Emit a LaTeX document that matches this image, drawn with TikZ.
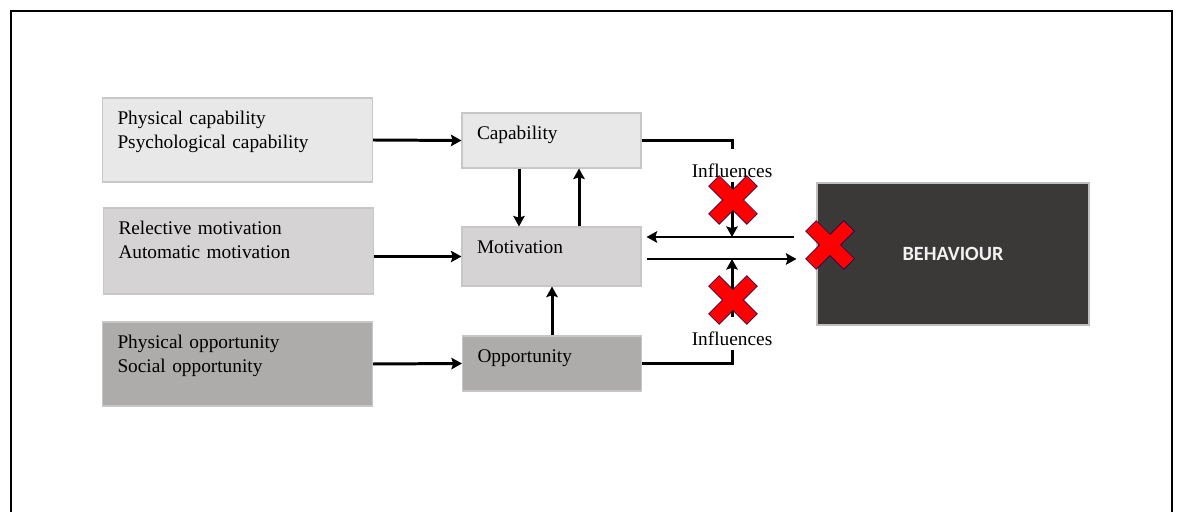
\documentclass[tikz,border=0pt]{standalone}
\usepackage{fontspec}
\setmainfont{Liberation Serif}
\newfontfamily\behfont{Carlito}
\usepackage{tikz}
\usetikzlibrary{positioning,calc,arrows.meta}
\definecolor{capgray}{HTML}{E8E8E8}
\definecolor{motgray}{HTML}{D5D3D4}
\definecolor{oppgray}{HTML}{AEABAB}
\definecolor{behgray}{HTML}{3B3838}

\begin{document}
\begin{tikzpicture}[
  font=\fontsize{11}{13.6}\selectfont,
  box/.style={draw=black!22, line width=0.6pt, inner xsep=3mm, inner ysep=0pt,
              text height=5.4mm, align=left},
  lst/.style={box, text width=4.8cm},
  stg/.style={box, text width=2.98cm},
  infl/.style={inner sep=0pt, anchor=base, text height=5.7mm, text depth=0.7mm},
  ln/.style={line width=1.7pt},
  fl/.style={ln, -{Stealth[length=6pt, width=6.5pt, inset=1pt]}},
  nox/.pic={
    \fill[red, draw=blue!35!black, line width=0.3pt, rotate=45]
      (0.15,0.15) -- (0.54,0.15) -- (0.54,-0.15) -- (0.15,-0.15) --
      (0.15,-0.54) -- (-0.15,-0.54) -- (-0.15,-0.15) -- (-0.54,-0.15) --
      (-0.54,0.15) -- (-0.15,0.15) -- (-0.15,0.54) -- (0.15,0.54) -- cycle;
  },
]
  \useasboundingbox (0,0) rectangle (23.68,10.22);
  % outer frame
  \draw[line width=1.4pt] (0.22,-0.2) |- (23.44,10.0) -- (23.44,-0.2);

  %=================== sources ===================
  \node[lst, fill=capgray, text depth=11.4mm] (capl) at (4.75,7.42) {Physical capability\\Psychological capability};
  \node[lst, fill=motgray, text depth=11.8mm] (motl) at (4.77,5.20) {Relective motivation\\Automatic motivation};
  \node[lst, fill=oppgray, text depth=11.4mm] (oppl) at (4.75,2.94) {Physical opportunity\\Social opportunity};

  %=================== components ===================
  \node[stg, fill=capgray, text depth=5.6mm] (cap) at (11.03,7.41) {Capability};
  \node[stg, fill=motgray, text depth=6.4mm] (mot) at (11.03,5.09) {Motivation};
  \node[stg, fill=oppgray, text depth=5.6mm] (opp) at (11.04,2.95) {Opportunity};

  \draw[fl] (capl.east) -- (cap.west);
  \draw[fl] (mot.west -| motl.east) -- (mot.west);
  \draw[fl] (oppl.east) -- (opp.west);

  \draw[fl] ([xshift=-6.5mm]cap.south) -- ([xshift=-6.5mm]mot.north);
  \draw[fl] ([xshift=5.5mm]mot.north) -- ([xshift=5.5mm]cap.south);
  \draw[fl] (opp.north) -- (opp.north |- mot.south);

  %=================== behaviour ===================
  \node[draw=black!25, line width=0.6pt, fill=behgray, minimum width=5.44cm, minimum height=2.84cm,
        text=white!95!black, font=\behfont\bfseries\fontsize{11.5}{13}\selectfont] (beh) at (19.06,5.14) {BEHAVIOUR};

  \coordinate (bin)  at ($(beh.west)+(-0.44,0.34)$);
  \coordinate (bout) at ($(beh.west)+(-0.40,-0.10)$);
  \coordinate (mup)  at ($(mot.east)+(0.10,0.39)$);
  \coordinate (mdn)  at ($(mot.east)+(0.10,-0.05)$);
  \draw[fl] (bin) -- (mup);
  \draw[fl] (mdn) -- (bout);

  %=================== influences ===================
  \node[infl] (inf1) at (14.64,6.66) {Influences};
  \node[infl] (inf2) at (14.64,3.30) {Influences};
  \draw[ln] (cap.east) -| (inf1.north);
  \draw[fl] (inf1.south) -- (inf1.south |- mup);
  \draw[ln] (opp.east) -| (inf2.south);
  \draw[fl] (inf2.north) -- (inf2.north |- mdn);

  % blocked links
  \pic at (14.66,6.22) {nox};
  \pic at (14.66,4.22) {nox};
  \pic at (16.60,5.32) {nox};
\end{tikzpicture}
\end{document}
